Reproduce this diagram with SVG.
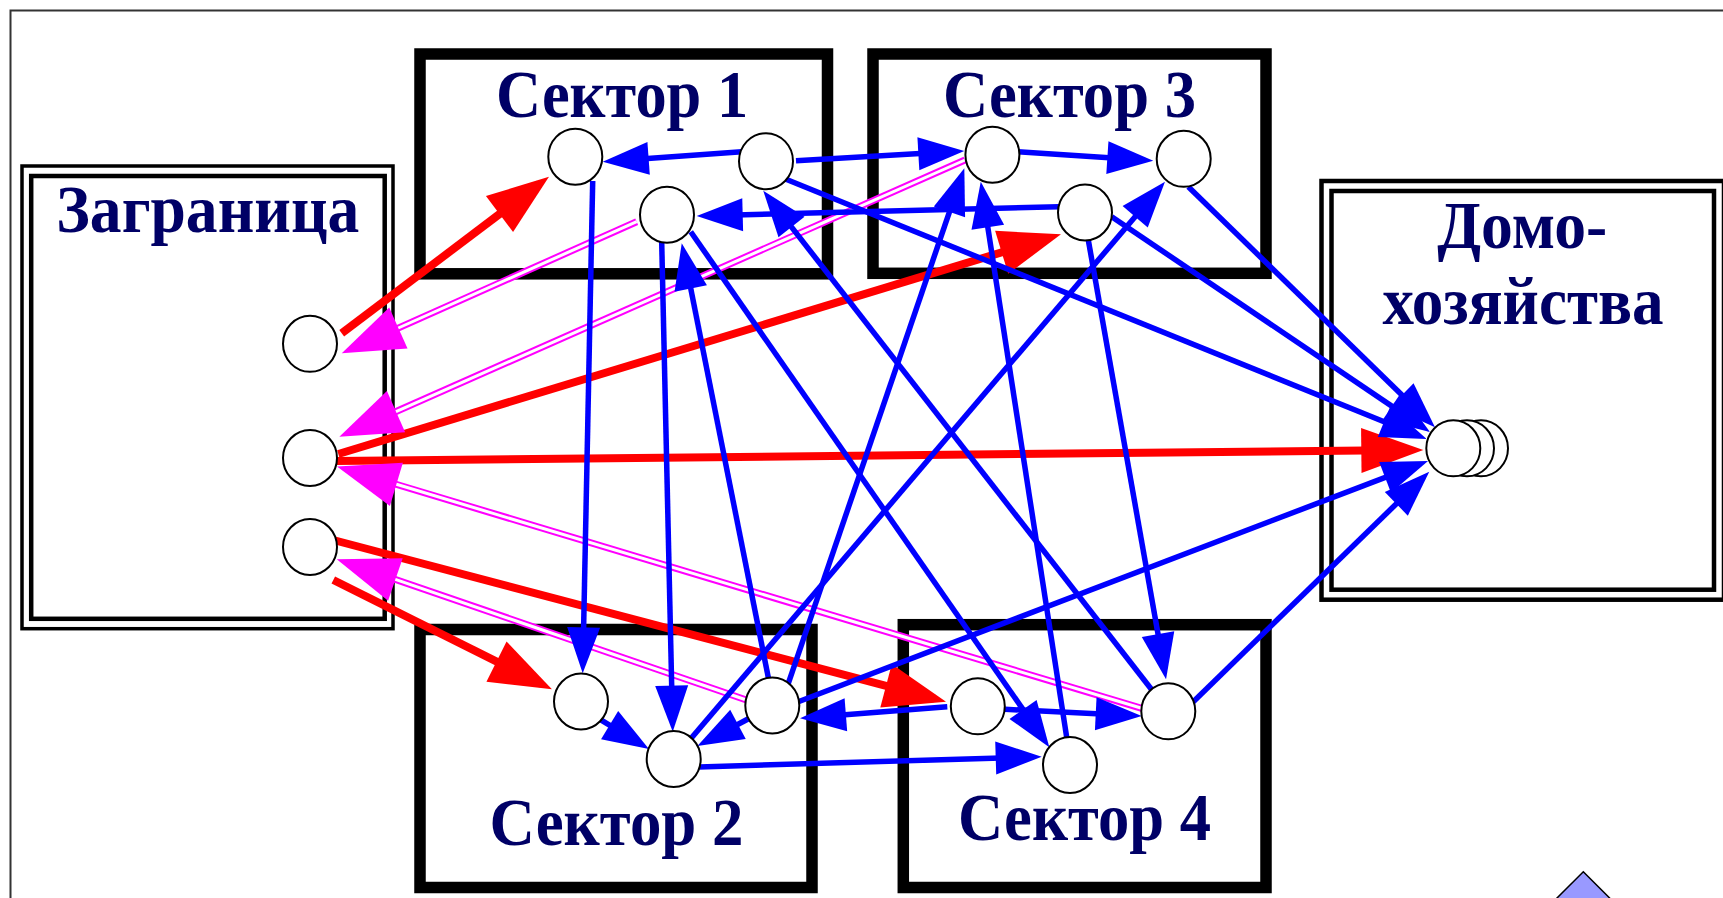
<svg xmlns="http://www.w3.org/2000/svg" width="1723" height="898" viewBox="0 0 1723 898">
<defs>
<style>
.frame{fill:none;stroke:#333;stroke-width:2}
.bx{fill:none;stroke:#000;stroke-width:11.5}
.t{font-family:"Liberation Serif","Times New Roman",serif;font-weight:bold;font-size:67px;fill:#000066;text-anchor:middle}
.nd{fill:#fff;stroke:#000;stroke-width:2}
.b{fill:none;stroke:#0000ff;stroke-width:5.5;marker-end:url(#mb)}
.r{fill:none;stroke:#ff0000;stroke-width:8;marker-end:url(#mr)}
.m{fill:none;stroke:#ff00ff;stroke-width:7;marker-end:url(#mm)}
.mw{fill:none;stroke:#fff;stroke-width:3}
</style>
<marker id="mb" markerUnits="userSpaceOnUse" viewBox="0 -18 48 36" markerWidth="48" markerHeight="36" refX="36" refY="0" orient="auto" overflow="visible"><path d="M0,-16.5 L46,0 L0,16.5Z" fill="#0000ff"/></marker>
<marker id="mr" markerUnits="userSpaceOnUse" viewBox="0 -24 64 48" markerWidth="64" markerHeight="48" refX="50" refY="0" orient="auto" overflow="visible"><path d="M0,-22.5 L62,0 L0,22.5Z" fill="#ff0000"/></marker>
<marker id="mm" markerUnits="userSpaceOnUse" viewBox="0 -24 64 48" markerWidth="64" markerHeight="48" refX="50" refY="0" orient="auto" overflow="visible"><path d="M0,-22.5 L62,0 L0,22.5Z" fill="#ff00ff"/></marker>
</defs>
<rect width="1723" height="898" fill="#fff"/>
<rect class="frame" x="10.5" y="10.5" width="1800" height="1000"/>

<g id="zagranica">
<rect x="22" y="166" width="371" height="462.7" fill="none" stroke="#000" stroke-width="3.5"/>
<rect x="31.2" y="176" width="353.5" height="442.8" fill="none" stroke="#000" stroke-width="4.5"/>
<text class="t" x="207.8" y="232" textLength="303" lengthAdjust="spacingAndGlyphs">Заграница</text>
</g>
<g id="sector1">
<rect class="bx" x="420" y="54" width="407.5" height="219.8"/>
<text class="t" x="622.1" y="116.7" textLength="252" lengthAdjust="spacingAndGlyphs">Сектор 1</text>
</g>
<g id="sector3">
<rect class="bx" x="873" y="54" width="393" height="219.3"/>
<text class="t" x="1069.5" y="116.7" textLength="253" lengthAdjust="spacingAndGlyphs">Сектор 3</text>
</g>
<g id="sector2">
<rect class="bx" x="420" y="629.5" width="392" height="258"/>
<text class="t" x="616.5" y="845" textLength="254" lengthAdjust="spacingAndGlyphs">Сектор 2</text>
</g>
<g id="sector4">
<rect class="bx" x="903.3" y="624.7" width="362.7" height="262.8"/>
<text class="t" x="1084.6" y="840" textLength="253" lengthAdjust="spacingAndGlyphs">Сектор 4</text>
</g>
<g id="households">
<rect x="1321.5" y="181" width="402.5" height="418.7" fill="none" stroke="#000" stroke-width="4.5"/>
<rect x="1331.5" y="191" width="382.5" height="398.7" fill="none" stroke="#000" stroke-width="4.5"/>
<text class="t" x="1522.3" y="248.3" textLength="170" lengthAdjust="spacingAndGlyphs">Домо-</text>
<text class="t" x="1523" y="324" textLength="281" lengthAdjust="spacingAndGlyphs">хозяйства</text>
</g>

<g id="connectors">
<path class="r" d="M341.7,333.3 L539.4,183.9"/>
<path class="r" d="M338.3,454 L1049.5,237.8"/>
<path class="r" d="M336,461 L1411.3,450.1"/>
<path class="r" d="M333.3,540 L934.4,698.6"/>
<path class="r" d="M333.3,580 L541.2,683.9"/>

<path class="m" d="M636.7,221.7 L352.7,348.4"/><path class="mw" d="M636.7,221.7 L398.3,328"/>
<path class="m" d="M965,160 L350.3,431.8"/><path class="mw" d="M965,160 L396,411.6"/>
<path class="m" d="M1141.7,708.3 L348.5,470"/><path class="mw" d="M1141.7,708.3 L396.4,484.3"/>
<path class="m" d="M746.4,700 L348.1,563.2"/><path class="mw" d="M746.4,700 L395.3,579.4"/>

<path class="b" d="M741.7,151.7 L612.7,161"/>
<path class="b" d="M796,160.7 L954.3,151.6"/>
<path class="b" d="M1017.9,151.7 L1143.3,160"/>
<path class="b" d="M1059,206.7 L706.7,215.7"/>
<path class="b" d="M592.7,181 L582.9,663.3"/>
<path class="b" d="M661.7,242 L672.5,721.7"/>
<path class="b" d="M768.8,680 L683.7,253.1"/>
<path class="b" d="M690.7,231.7 L1043.6,739.1"/>
<path class="b" d="M1153.3,691.7 L769.4,198.6"/>
<path class="b" d="M786,179.3 L1417.4,435.2"/>
<path class="b" d="M1111.7,216.7 L1421.7,426.4"/>
<path class="b" d="M1188.3,186.7 L1427.8,420.3"/>
<path class="b" d="M798.3,701.7 L1418.7,464.6"/>
<path class="b" d="M1193.3,701.7 L1422.1,478.7"/>
<path class="b" d="M688,742 L1158.5,189.3"/>
<path class="b" d="M786.6,688.3 L961.1,177.8"/>
<path class="b" d="M1066.7,737.3 L982.3,191.6"/>
<path class="b" d="M1088.3,240 L1164.3,669.5"/>
<path class="b" d="M600,719.3 L640.4,743.8"/>
<path class="b" d="M748,719 L706.2,741.3"/>
<path class="b" d="M947.3,706.7 L810,717.5"/>
<path class="b" d="M1005,709.3 L1131.7,715.5"/>
<path class="b" d="M699,767 L1031.7,757"/>
</g>

<g id="z1"><ellipse class="nd" cx="310" cy="343.8" rx="27" ry="28"/></g>
<g id="z2"><ellipse class="nd" cx="310" cy="458" rx="27" ry="28"/></g>
<g id="z3"><ellipse class="nd" cx="310" cy="547" rx="27" ry="28"/></g>
<g id="s1a"><ellipse class="nd" cx="575.3" cy="156.7" rx="27" ry="28"/></g>
<g id="s1b"><ellipse class="nd" cx="766" cy="161.2" rx="27" ry="28"/></g>
<g id="s1c"><ellipse class="nd" cx="667" cy="214.7" rx="27" ry="28"/></g>
<g id="s3d"><ellipse class="nd" cx="992.4" cy="154.7" rx="27" ry="28"/></g>
<g id="s3e"><ellipse class="nd" cx="1183.7" cy="158.8" rx="27" ry="28"/></g>
<g id="s3f"><ellipse class="nd" cx="1085" cy="212.5" rx="27" ry="28"/></g>
<g id="s2g"><ellipse class="nd" cx="581" cy="701.5" rx="27" ry="28"/></g>
<g id="s2h"><ellipse class="nd" cx="673.7" cy="759" rx="27" ry="28"/></g>
<g id="s2i"><ellipse class="nd" cx="772.3" cy="705.5" rx="27" ry="28"/></g>
<g id="s4j"><ellipse class="nd" cx="977.8" cy="706.3" rx="27" ry="28"/></g>
<g id="s4k"><ellipse class="nd" cx="1070" cy="765" rx="27" ry="28"/></g>
<g id="s4l"><ellipse class="nd" cx="1168.3" cy="711.3" rx="27" ry="28"/></g>
<g id="hh">
<ellipse class="nd" cx="1481" cy="448.3" rx="27" ry="28"/>
<ellipse class="nd" cx="1467" cy="448.3" rx="27" ry="28"/>
<ellipse class="nd" cx="1453.3" cy="448.3" rx="27" ry="28"/>
</g>
<g id="diamond"><polygon points="1583.3,871.7 1613.3,901.7 1583.3,931.7 1553.3,901.7" fill="#9999ff" stroke="#000" stroke-width="1.5"/></g>
</svg>
